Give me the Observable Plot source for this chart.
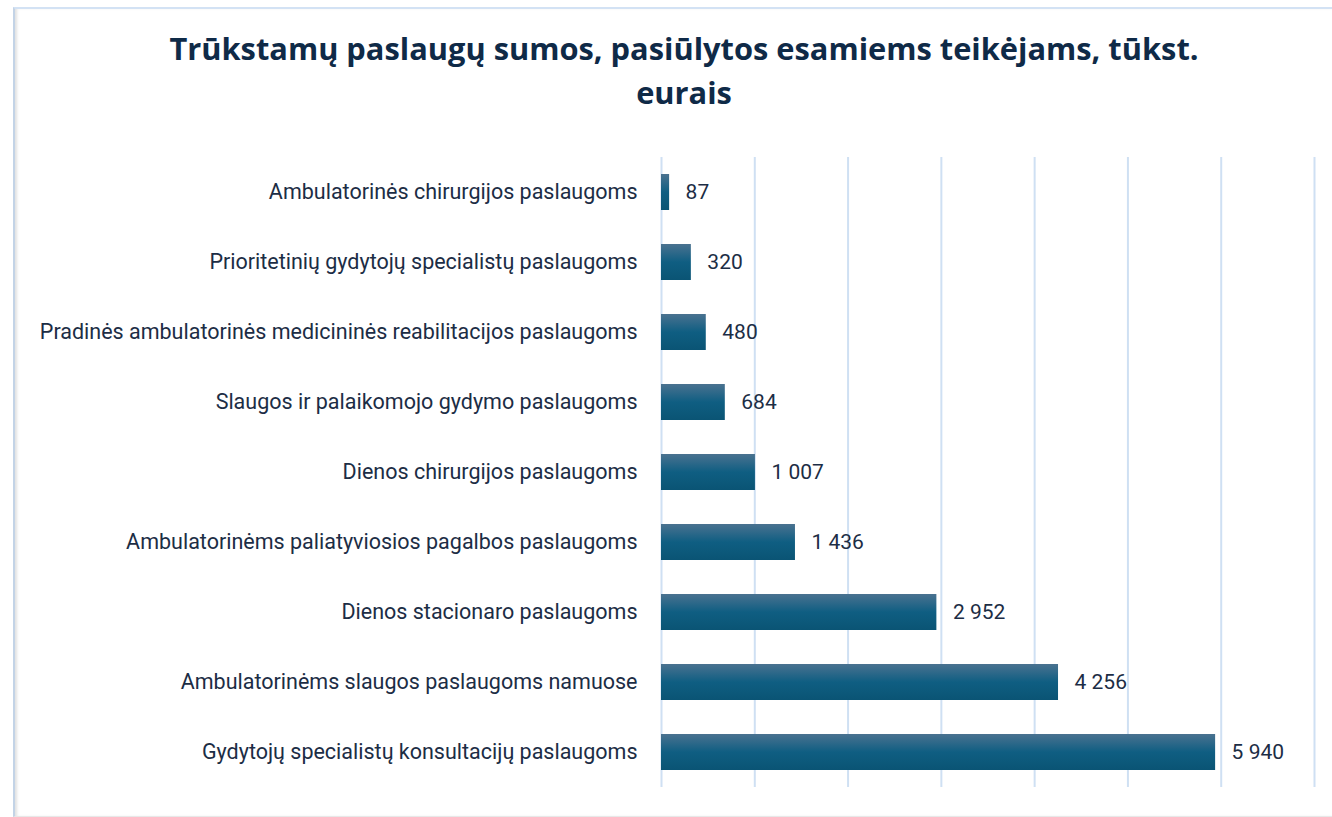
<!DOCTYPE html>
<html>
<head>
<meta charset="utf-8">
<script src="https://cdn.jsdelivr.net/npm/d3@7"></script>
<script src="https://cdn.jsdelivr.net/npm/@observablehq/plot@0.6"></script>
<style>
  html, body { margin: 0; padding: 0; background: #fff; }
  body { width: 1332px; height: 817px; position: relative; overflow: hidden; }
  #frame { position: absolute; left: 13px; top: 7px; width: 1330px; height: 807px;
    border-top: 2px solid #d3e2f4; border-left: 2px solid #c3d3e6;
    border-bottom: 1px solid #e8e8e8;
    box-shadow: inset 3px 0 3px -1px rgba(0,0,0,0.12); }
  #title { position: absolute; left: 0; width: 1368px; top: 26px; text-align: center;
    font-family: "Open Sans", sans-serif; font-weight: 700; font-size: 30.8px; line-height: 44px;
    color: #0f2a47; }
  #chart { position: absolute; left: 0; top: 0; }
</style>
</head>
<body>
<div id="frame"></div>
<div id="title">Trūkstamų paslaugų sumos, pasiūlytos esamiems teikėjams, tūkst.<br>eurais</div>
<div id="chart"></div>
<script>
const categories = [
  "Ambulatorinės chirurgijos paslaugoms",
  "Prioritetinių gydytojų specialistų paslaugoms",
  "Pradinės ambulatorinės medicininės reabilitacijos paslaugoms",
  "Slaugos ir palaikomojo gydymo paslaugoms",
  "Dienos chirurgijos paslaugoms",
  "Ambulatorinėms paliatyviosios pagalbos paslaugoms",
  "Dienos stacionaro paslaugoms",
  "Ambulatorinėms slaugos paslaugoms namuose",
  "Gydytojų specialistų konsultacijų paslaugoms"
];
const values = [87, 320, 480, 684, 1007, 1436, 2952, 4256, 5940];
const gridTicks = [0, 1000, 2000, 3000, 4000, 5000, 6000, 7000];

const data = categories.map((c, i) => ({ category: c, value: values[i] }));
const loc = d3.formatLocale({ decimal: ",", thousands: "\u00a0", grouping: [3] });
const fmt = loc.format(",d");

const chart = Plot.plot({
  width: 1332,
  height: 817,
  marginLeft: 661,
  marginRight: 18,
  marginTop: 157,
  marginBottom: 30,
  style: { fontFamily: "Roboto, sans-serif", color: "#1c2d45", background: "transparent" },
  x: { domain: [0, 7000], axis: null },
  y: { domain: categories, paddingInner: 0.486, paddingOuter: 0.243, label: null },
  marks: [
    Plot.ruleX(gridTicks, { stroke: "#cfe0f3", strokeWidth: 2, y1: null, y2: null }),
    Plot.barX(data, { x: "value", y: "category", fill: "url(#barGrad)" }),
    Plot.text(data, { x: "value", y: "category", text: d => fmt(d.value), dx: 16,
      textAnchor: "start", fontSize: 21, fill: "#1c2d45" }),
    Plot.axisY({ tickSize: 0, tickPadding: 24, fontSize: 21.5, label: null, fill: "#1c2d45" })
  ]
});

const ns = "http://www.w3.org/2000/svg";
const defs = document.createElementNS(ns, "defs");
defs.innerHTML = `<linearGradient id="barGrad" x1="0" y1="0" x2="0" y2="1">
  <stop offset="0" stop-color="#4a7290"/>
  <stop offset="0.5" stop-color="#0f5e82"/>
  <stop offset="1" stop-color="#0a5474"/>
</linearGradient>`;
chart.insertBefore(defs, chart.firstChild);
document.getElementById("chart").appendChild(chart);
</script>
</body>
</html>
